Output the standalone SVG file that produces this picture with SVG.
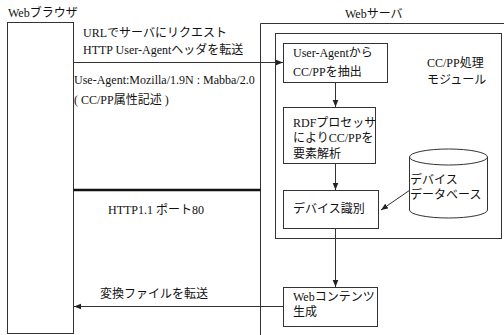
<svg xmlns="http://www.w3.org/2000/svg" width="504" height="335" viewBox="0 0 504 335">
<style>
text{font-family:"Liberation Serif","Noto Sans CJK JP",serif;font-size:12px;fill:#111}
.b{fill:none;stroke:#333;stroke-width:1}
.c{fill:none;stroke:#333;stroke-width:1}
.t{fill:none;stroke:#111;stroke-width:2.5}
</style>
<defs>
<marker id="a" viewBox="0 0 10 10" refX="10" refY="5" markerWidth="7" markerHeight="7" orient="auto" markerUnits="userSpaceOnUse">
<path d="M0,1 L10,5 L0,9 Z" fill="#222"/>
</marker>
</defs>
<rect width="504" height="335" fill="#fff"/>
<g id="browser">
<rect class="b" x="7.5" y="22.5" width="66" height="311"/>
<text x="8" y="17">Webブラウザ</text>
</g>
<g id="server">
<path class="b" d="M510,23.5 H260.5 V340"/>
<text x="345" y="18">Webサーバ</text>
</g>
<g id="module">
<rect class="b" x="275.5" y="33.5" width="226" height="205"/>
<text x="427" y="67">CC/PP処理</text>
<text x="427" y="84">モジュール</text>
</g>
<g id="ua">
<rect class="b" x="283.5" y="43.5" width="104" height="39"/>
<text x="293" y="57">User-Agentから</text>
<text x="293" y="76">CC/PPを抽出</text>
</g>
<g id="rdf">
<rect class="b" x="283.5" y="107.5" width="92" height="56"/>
<text x="293" y="127">RDFプロセッサ</text>
<text x="293" y="142">によりCC/PPを</text>
<text x="293" y="158">要素解析</text>
</g>
<g id="device">
<rect class="b" x="283.5" y="190.5" width="95" height="38"/>
<text x="293" y="213">デバイス識別</text>
</g>
<g id="db">
<path class="b" d="M409.5,157 V210 A39,8 0 0 0 487.5,210 V157"/>
<ellipse class="b" cx="448.5" cy="157" rx="39" ry="8"/>
<text x="410" y="184">デバイス</text>
<text x="410" y="199">データベース</text>
</g>
<g id="content">
<rect class="b" x="283.5" y="287.5" width="94" height="39"/>
<text x="293" y="301">Webコンテンツ</text>
<text x="293" y="316">生成</text>
</g>
<g id="connectors">
<line class="c" x1="73.5" y1="62.5" x2="283" y2="62.5" marker-end="url(#a)"/>
<line class="t" x1="73.5" y1="190" x2="260.5" y2="190"/>
<line class="c" x1="335.5" y1="82.5" x2="335.5" y2="107" marker-end="url(#a)"/>
<line class="c" x1="335.5" y1="163.5" x2="335.5" y2="190" marker-end="url(#a)"/>
<line class="c" x1="335.5" y1="228.5" x2="335.5" y2="287" marker-end="url(#a)"/>
<line class="c" x1="410" y1="190" x2="381" y2="210" marker-end="url(#a)"/>
<line class="c" x1="283" y1="306.5" x2="74" y2="306.5" marker-end="url(#a)"/>
<text x="83" y="37">URLでサーバにリクエスト</text>
<text x="83" y="54">HTTP User-Agentヘッダを転送</text>
<text x="74" y="84" font-size="11.6">Use-Agent:Mozilla/1.9N : Mabba/2.0</text>
<text x="74" y="104">( CC/PP属性記述 )</text>
<text x="108" y="214">HTTP1.1 ポート80</text>
<text x="100" y="298">変換ファイルを転送</text>
</g>
</svg>
